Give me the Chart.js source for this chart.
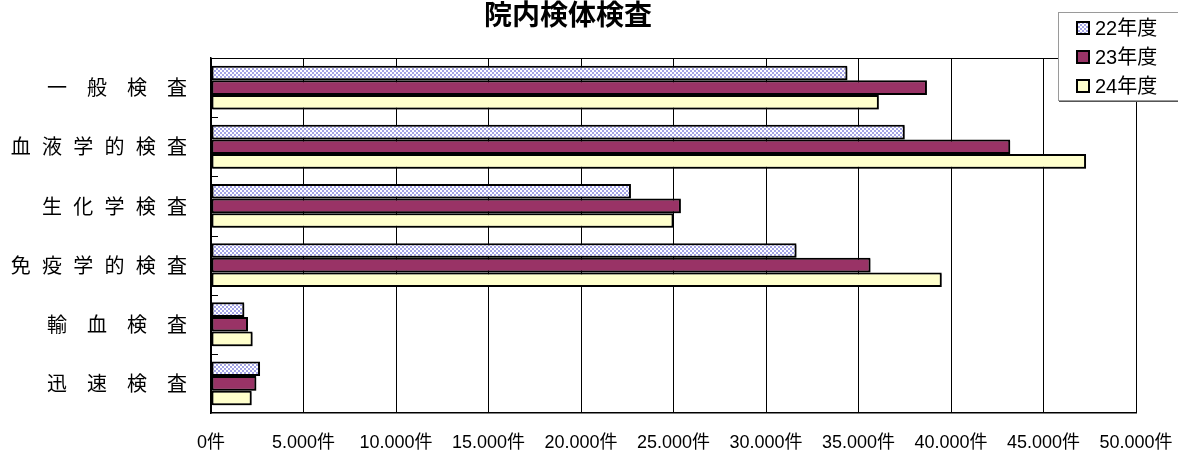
<!DOCTYPE html>
<html>
<head>
<meta charset="utf-8">
<script src="https://cdn.jsdelivr.net/npm/chart.js@4/dist/chart.umd.min.js"></script>
<style>
  html, body { margin: 0; padding: 0; background: #fff; }
  #wrap { width: 1178px; height: 450px; }
</style>
</head>
<body>
<div id="wrap"><canvas id="kentai"></canvas></div>
<script>
// 検査区分と年度別件数
const categories = ["一般検査", "血液学的検査", "生化学検査", "免疫学的検査", "輸血検査", "迅速検査"];
const seriesLabels = ["22年度", "23年度", "24年度"];
const fy22 = [34400, 37500, 22700, 31650, 1800, 2650];
const fy23 = [38700, 43200, 25400, 35650, 2000, 2450];
const fy24 = [36100, 47300, 25000, 39500, 2250, 2200];
const xTickValues = [0, 5000, 10000, 15000, 20000, 25000, 30000, 35000, 40000, 45000, 50000];

const JP = "'Noto Sans CJK JP', sans-serif";
const LAT = "'Liberation Sans', 'Noto Sans CJK JP', sans-serif";

// 22年度の市松模様
function checkerPattern() {
  const c = document.createElement("canvas");
  c.width = 4; c.height = 4;
  const g = c.getContext("2d");
  g.fillStyle = "#ffffff";
  g.fillRect(0, 0, 4, 4);
  g.fillStyle = "#a4a4e6";
  g.fillRect(0, 0, 2, 2);
  g.fillRect(2, 2, 2, 2);
  return g.createPattern(c, "repeat");
}
const pattern22 = checkerPattern();
const fills = [pattern22, "#993366", "#ffffcc"];

// 文字数で字間を変える（Excel の均等割り付け風）
function spaced(label) {
  const sep = label.length <= 4 ? "\u3000" : "\u2002\u200a";
  return label.split("").join(sep);
}

function fmtKen(v) {
  return String(v).replace(/\B(?=(\d{3})+(?!\d))/g, ".") + "件";
}

// 棒の影
const barShadow = {
  id: "barShadow",
  beforeDatasetsDraw(chart) {
    const ctx = chart.ctx;
    ctx.save();
    ctx.shadowColor = "rgba(0,0,0,0.35)";
    ctx.shadowOffsetX = 1.5;
    ctx.shadowOffsetY = 1.5;
    ctx.shadowBlur = 0;
  },
  afterDatasetsDraw(chart) {
    chart.ctx.restore();
  }
};

// 枠線と区分の目盛り
const plotFrame = {
  id: "plotFrame",
  afterDatasetsDraw(chart) {
    const { ctx, chartArea: a } = chart;
    const y = chart.scales.y;
    ctx.save();
    ctx.strokeStyle = "#000";
    ctx.lineWidth = 1;
    ctx.beginPath();
    ctx.moveTo(a.left, a.top + 0.5);
    ctx.lineTo(a.right, a.top + 0.5);
    for (let i = 1; i < categories.length; i++) {
      const py = Math.round((y.getPixelForValue(i - 1) + y.getPixelForValue(i)) / 2) + 0.5;
      ctx.moveTo(a.left, py);
      ctx.lineTo(a.left + 7, py);
    }
    ctx.stroke();
    ctx.restore();
  }
};

// 右上の凡例
const boxLegend = {
  id: "boxLegend",
  afterDraw(chart) {
    const ctx = chart.ctx;
    const left = 1058, top = 12, w = 130, h = 88;
    ctx.save();
    ctx.fillStyle = "#fff";
    ctx.fillRect(left, top, w, h);
    ctx.strokeStyle = "#9a9a9a";
    ctx.lineWidth = 1;
    ctx.strokeRect(left + 0.5, top + 0.5, w, h);
    ctx.strokeStyle = "#555";
    ctx.beginPath();
    ctx.moveTo(left + 1, top + h + 1.5);
    ctx.lineTo(left + w, top + h + 1.5);
    ctx.stroke();
    ctx.font = "20px " + LAT;
    ctx.textBaseline = "middle";
    chart.data.datasets.forEach((ds, i) => {
      const cy = top + 16 + i * 29;
      ctx.fillStyle = ds.backgroundColor;
      ctx.fillRect(left + 19, cy - 6, 12, 12);
      ctx.strokeStyle = "#000";
      ctx.lineWidth = 2;
      ctx.strokeRect(left + 19, cy - 6, 12, 12);
      ctx.fillStyle = "#000";
      ctx.fillText(ds.label, left + 37, cy + 1);
    });
    ctx.restore();
  }
};

const ctx = document.getElementById("kentai").getContext("2d");
new Chart(ctx, {
  type: "bar",
  data: {
    labels: categories,
    datasets: [fy22, fy23, fy24].map((vals, i) => ({
      label: seriesLabels[i],
      data: vals,
      backgroundColor: fills[i],
      borderColor: "#000",
      borderWidth: 2,
      borderSkipped: false,
      categoryPercentage: 0.74,
      barPercentage: 1.0
    }))
  },
  options: {
    indexAxis: "y",
    responsive: true,
    maintainAspectRatio: false,
    animation: false,
    layout: { padding: { top: 0, right: 42, bottom: 0, left: 0 } },
    plugins: {
      legend: { display: false },
      tooltip: { enabled: false },
      title: {
        display: true,
        text: "院内検体検査",
        color: "#000",
        font: { family: JP, size: 28, weight: "bold", lineHeight: 1 },
        padding: { top: 0, bottom: 30 }
      }
    },
    scales: {
      x: {
        min: 0,
        max: 50000,
        afterBuildTicks(scale) {
          scale.ticks = xTickValues.map(v => ({ value: v }));
        },
        afterFit(scale) {
          scale.height = 37;
          scale.paddingLeft = 0;
          scale.paddingRight = 0;
        },
        grid: { color: "#000", lineWidth: 1, drawTicks: false },
        border: { color: "#000", width: 1.5 },
        ticks: {
          color: "#000",
          padding: 19,
          maxRotation: 0,
          autoSkip: false,
          font: { family: LAT, size: 18 },
          callback: v => fmtKen(v)
        }
      },
      y: {
        afterFit(scale) { scale.width = 211; },
        grid: { display: false },
        border: { color: "#000", width: 1.5 },
        ticks: {
          color: "#000",
          padding: 16,
          font: { family: JP, size: 20 },
          callback: function (v, i) { return spaced(categories[i]); }
        }
      }
    }
  },
  plugins: [barShadow, plotFrame, boxLegend]
});
</script>
</body>
</html>
